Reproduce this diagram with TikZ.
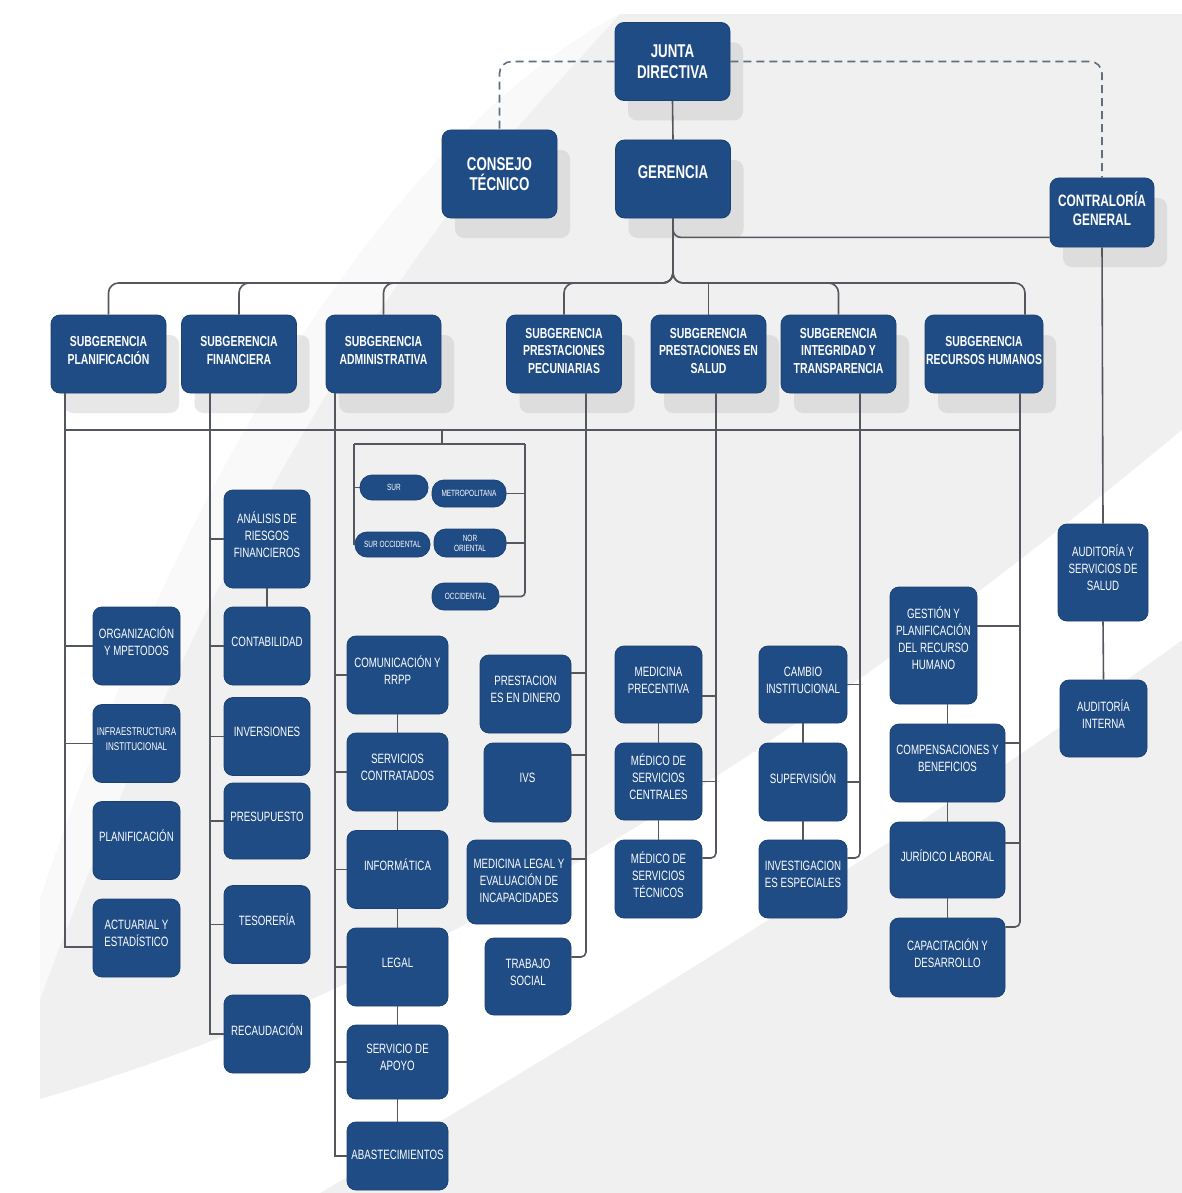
\documentclass[tikz,border=0pt]{standalone}
\usepackage{fontspec}
\setmainfont{Liberation Sans}
\newfontfamily\narrow[FakeStretch=0.72]{Liberation Sans}
\usetikzlibrary{calc, shadows}

\definecolor{boxblue}{RGB}{31,76,133}
\definecolor{linegray}{RGB}{84,88,94}
\definecolor{dashgray}{RGB}{96,110,128}
\definecolor{bggray}{RGB}{240,240,241}

\begin{document}
\begin{tikzpicture}[x=1pt, y=-1pt,
  box/.style={draw=boxblue!85!black, line width=0.8pt, fill=boxblue, rounded corners=9pt,
    text=white, align=center, inner sep=1pt},
  shadowed/.style={box, drop shadow={shadow xshift=13pt, shadow yshift=-20pt,
    fill=black!30, opacity=0.3}},
  top/.style={shadowed, font=\narrow\bfseries\fontsize{18.5}{20.5}\selectfont,
    minimum width=115pt, minimum height=78pt},
  sub/.style={shadowed, font=\narrow\bfseries\fontsize{14.5}{17.5}\selectfont,
    minimum width=115pt, minimum height=78pt, text depth=7pt},
  unit/.style={box, font=\narrow\fontsize{13.5}{17}\selectfont,
    minimum width=#1, minimum height=78pt, text depth=9pt},
  unit/.default=87pt,
  region/.style={box, rounded corners=12pt, font=\narrow\fontsize{9}{10}\selectfont},
  link/.style={draw=linegray, line width=1.6pt},
  dashlink/.style={draw=dashgray, line width=1.6pt, dash pattern=on 8pt off 5pt,
    rounded corners=12pt}
]
  \useasboundingbox (0,0) rectangle (1182,1193);

  % fondo
  \fill[bggray] (0,0) rectangle (1182,1193);
  \fill[white] (0,0) -- (1182,0) -- (1182,14) -- (620,14)
    .. controls (420,120) and (200,420) .. (40,900) -- (40,1193) -- (0,1193) -- cycle;
  \fill[white!60!bggray] (620,14) .. controls (420,120) and (200,420) .. (40,900)
    -- (40,1000) .. controls (200,560) and (400,250) .. (560,80) -- cycle;
  \fill[white] (0,1193) -- (0,1110) .. controls (420,1000) and (820,730) .. (1182,430)
    -- (1182,640) .. controls (880,860) and (560,1050) .. (320,1193) -- cycle;

  % nivel superior
  \node[top] (junta) at (672.5,61.5) {JUNTA\\DIRECTIVA};
  \node[top, minimum height=88pt] (consejo) at (499.5,174) {CONSEJO\\TÉCNICO};
  \node[top, text depth=14pt] (gerencia) at (673,179) {GERENCIA};
  \node[top, minimum width=104pt, minimum height=69pt, text depth=8pt,
    font=\narrow\bfseries\fontsize{16.5}{18.5}\selectfont] (contra) at (1102,212.5)
    {CONTRALORÍA\\GENERAL};

  % subgerencias
  \node[sub] (sp)  at (108.5,354) {SUBGERENCIA\\PLANIFICACIÓN};
  \node[sub] (sf)  at (239,354)   {SUBGERENCIA\\FINANCIERA};
  \node[sub] (sa)  at (383.5,354) {SUBGERENCIA\\ADMINISTRATIVA};
  \node[sub] (spp) at (564,354)   {SUBGERENCIA\\PRESTACIONES\\PECUNIARIAS};
  \node[sub] (sps) at (708.5,354) {SUBGERENCIA\\PRESTACIONES EN\\SALUD};
  \node[sub] (sit) at (838.5,354) {SUBGERENCIA\\INTEGRIDAD Y\\TRANSPARENCIA};
  \node[sub] (srh) at (984,354)   {SUBGERENCIA\\RECURSOS HUMANOS};

  % planificacion
  \node[unit] (org)  at (136.5,646)   {ORGANIZACIÓN\\Y MPETODOS};
  \node[unit, font=\narrow\fontsize{11.2}{15}\selectfont] (infr) at (136.5,743.5)
    {INFRAESTRUCTURA\\INSTITUCIONAL};
  \node[unit] (plan) at (136.5,840.5) {PLANIFICACIÓN};
  \node[unit] (act)  at (136.5,938)   {ACTUARIAL Y\\ESTADÍSTICO};

  % financiera
  \node[unit=86pt, minimum height=98pt] (ana) at (267,539) {ANÁLISIS DE\\RIESGOS\\FINANCIEROS};
  \node[unit=86pt] (con) at (267,646)   {CONTABILIDAD};
  \node[unit=86pt] (inv) at (267,736.5) {INVERSIONES};
  \node[unit=86pt, minimum height=76pt] (pre) at (267,821) {PRESUPUESTO};
  \node[unit=86pt] (tes) at (267,924.5) {TESORERÍA};
  \node[unit=86pt] (rec) at (267,1034)  {RECAUDACIÓN};

  % administrativa
  \node[unit=101pt] (comu) at (397.5,675)   {COMUNICACIÓN Y\\RRPP};
  \node[unit=101pt] (scon) at (397.5,772)   {SERVICIOS\\CONTRATADOS};
  \node[unit=101pt] (info) at (397.5,869.5) {INFORMÁTICA};
  \node[unit=101pt] (leg)  at (397.5,967)   {LEGAL};
  \node[unit=101pt, minimum height=74pt] (apo)  at (397.5,1062) {SERVICIO DE\\APOYO};
  \node[unit=101pt, minimum height=68pt, text depth=3pt] (abas) at (397.5,1156) {ABASTECIMIENTOS};

  % regionales
  \node[region, minimum width=68pt, minimum height=25pt] (sur)   at (394,487.5)   {SUR};
  \node[region, minimum width=74pt, minimum height=27pt] (metro) at (469,493.5)   {METROPOLITANA};
  \node[region, minimum width=75pt, minimum height=25pt] (suroc) at (392.5,544.5) {SUR OCCIDENTAL};
  \node[region, minimum width=72pt, minimum height=28pt] (nor)   at (470,543)     {NOR\\ORIENTAL};
  \node[region, minimum width=67pt, minimum height=27pt] (occ)   at (465.5,596.5) {OCCIDENTAL};

  % prestaciones pecuniarias
  \node[unit=91pt]  (pdin) at (525.5,694)   {PRESTACION\\ES EN DINERO};
  \node[unit=87pt, minimum height=79pt] (ivs) at (527.5,782.5) {IVS};
  \node[unit=104pt, minimum height=84pt, text depth=3pt] (mleg) at (519,882)
    {MEDICINA LEGAL Y\\EVALUACIÓN DE\\INCAPACIDADES};
  \node[unit=86pt, minimum height=77pt] (tra) at (528,976.5) {TRABAJO\\SOCIAL};

  % prestaciones en salud
  \node[unit, minimum height=77pt] (mpr) at (658.5,684.5) {MEDICINA\\PRECENTIVA};
  \node[unit, minimum height=77pt] (msc) at (658.5,781.5) {MÉDICO DE\\SERVICIOS\\CENTRALES};
  \node[unit, minimum height=78pt] (mst) at (658.5,879)   {MÉDICO DE\\SERVICIOS\\TÉCNICOS};

  % integridad y transparencia
  \node[unit=88pt, minimum height=77pt] (cam) at (803,684.5) {CAMBIO\\INSTITUCIONAL};
  \node[unit=88pt] (sup) at (803,782) {SUPERVISIÓN};
  \node[unit=88pt] (ive) at (803,879) {INVESTIGACION\\ES ESPECIALES};

  % recursos humanos
  \node[unit, minimum height=117pt, text depth=14pt] (ges) at (933.5,645.5)
    {GESTIÓN Y\\PLANIFICACIÓN\\DEL RECURSO\\HUMANO};
  \node[unit=115pt] (comp) at (947.5,763)   {COMPENSACIONES Y\\BENEFICIOS};
  \node[unit=115pt, minimum height=76pt] (jur) at (947.5,860) {JURÍDICO LABORAL};
  \node[unit=115pt, minimum height=79pt] (cap) at (947.5,957.5) {CAPACITACIÓN Y\\DESARROLLO};

  % contraloria
  \node[unit=90pt, minimum height=97pt] (aud) at (1103,572.5) {AUDITORÍA Y\\SERVICIOS DE\\SALUD};
  \node[unit=87pt, minimum height=77pt] (ain) at (1103.5,718.5) {AUDITORÍA\\INTERNA};

  % lineas punteadas
  \draw[dashlink] (junta.west) -| (consejo.north);
  \draw[dashlink] (junta.east) -| (contra.north);

  % gerencia
  \coordinate (b1) at (673,283);
  \draw[link] (junta.south) -- (gerencia.north);
  \draw[link, rounded corners=8pt] (gerencia.south) |- ([yshift=10pt]contra.south west);
  \foreach \s in {sp,sf,sa,spp,sit}
    \draw[link, rounded corners=10pt] (gerencia.south) -- (b1) -| (\s.north);
  \draw[link, rounded corners=10pt] (gerencia.south) -- (b1) -| ([xshift=41pt]srh.north);
  \draw[link] (sps.north) -- (sps.north |- b1);

  % columnas
  \coordinate (c1) at ([xshift=-43.5pt]sp.south);
  \coordinate (c2) at ([xshift=-29pt]sf.south);
  \coordinate (c3) at ([xshift=-48.5pt]sa.south);
  \coordinate (c4) at ([xshift=22pt]spp.south);
  \coordinate (c5) at ([xshift=7.5pt]sps.south);
  \coordinate (c6) at ([xshift=21.5pt]sit.south);
  \coordinate (c7) at ([xshift=36pt]srh.south);
  \coordinate (b2) at (65,430);
  \draw[link, line width=2.2pt] (b2 -| c1) -- (b2 -| c7);

  \draw[link] (c1) |- ([yshift=-9pt]act.west);
  \foreach \n in {org,infr}
    \draw[link] (\n.west) -- (\n.west -| c1);

  \draw[link] (c2) |- (rec.west);
  \foreach \n in {ana,con,inv,pre,tes}
    \draw[link] (\n.west) -- (\n.west -| c2);
  \draw[link] (ana.south) -- (con.north);

  \draw[link] (c3) |- (abas.west);
  \foreach \n in {comu,scon,info,leg,apo}
    \draw[link] (\n.west) -- (\n.west -| c3);
  \foreach \a/\b in {comu/scon,scon/info,info/leg,leg/apo,apo/abas}
    \draw[link] (\a.south) -- (\b.north);

  % regionales
  \coordinate (rt) at (442,430);
  \coordinate (rg) at (442,444);
  \coordinate (rl) at (354,444);
  \coordinate (rr) at (525,444);
  \draw[link] (rt) -- (rg);
  \draw[link] (rl) -- (rr);
  \draw[link] (rl) |- (suroc.west);
  \draw[link] (sur.west) -- (sur.west -| rl);
  \draw[link, rounded corners=4pt] (rr) |- (occ.east);
  \draw[link] (metro.east) -- (metro.east -| rr);
  \draw[link] (nor.east) -- (nor.east -| rr);

  \draw[link, rounded corners=5pt] (c4) |- ([yshift=19.5pt]tra.east);
  \draw[link] ([yshift=21pt]pdin.east) -- ([yshift=21pt]pdin.east -| c4);
  \draw[link] ([yshift=27.5pt]ivs.east) -- ([yshift=27.5pt]ivs.east -| c4);
  \draw[link] ([yshift=23pt]mleg.east) -- ([yshift=23pt]mleg.east -| c4);

  \draw[link, rounded corners=5pt] (c5) |- ([yshift=21pt]mst.east);
  \draw[link] ([yshift=-11.5pt]mpr.east) -- ([yshift=-11.5pt]mpr.east -| c5);
  \draw[link] (msc.east) -- (msc.east -| c5);
  \draw[link] (mpr.south) -- (msc.north);
  \draw[link] (msc.south) -- (mst.north);

  \draw[link, rounded corners=5pt] (c6) |- ([yshift=21pt]ive.east);
  \draw[link] (cam.east) -- (cam.east -| c6);
  \draw[link] (sup.east) -- (sup.east -| c6);
  \draw[link] (cam.south) -- (sup.north);
  \draw[link] (sup.south) -- (ive.north);

  \draw[link, rounded corners=5pt] (c7) |- ([yshift=30.5pt]cap.east);
  \draw[link] ([yshift=19.5pt]ges.east) -- ([yshift=19.5pt]ges.east -| c7);
  \draw[link] ([yshift=20pt]comp.east) -- ([yshift=20pt]comp.east -| c7);
  \draw[link] ([yshift=17pt]jur.east) -- ([yshift=17pt]jur.east -| c7);
  \draw[link] (comp.north) -- (comp.north |- ges.south);
  \draw[link] (comp.south) -- (jur.north);
  \draw[link] (jur.south) -- (cap.north);

  \draw[link] (contra.south) -- (aud.north);
  \draw[link] (aud.south) -- (ain.north);
\end{tikzpicture}
\end{document}
